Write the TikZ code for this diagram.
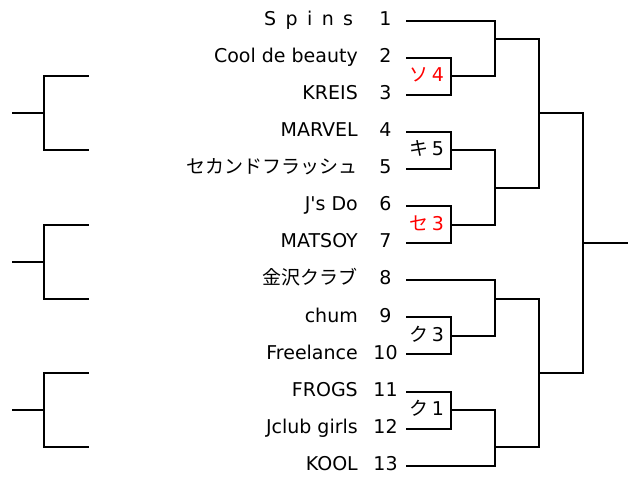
\documentclass[tikz,border=0pt]{standalone}
\usepackage{fontspec}
\setmainfont{DejaVu Sans}
\newfontfamily\jp{Noto Sans CJK JP}
\usepackage{tikz}
\usetikzlibrary{positioning, calc}

\definecolor{winred}{RGB}{255, 0, 0}

\begin{document}
\begin{tikzpicture}[
    x=1pt, y=-37.08pt,
    line/.style={draw=black, line width=2pt},
    team/.style={anchor=base east, yshift=-4.7pt, inner sep=0pt, font=\fontsize{19}{22}\selectfont},
    seed/.style={anchor=base, yshift=-4.7pt, inner sep=0pt, font=\fontsize{19}{22}\selectfont},
    score/.style={anchor=base, yshift=-5.4pt, inner sep=0pt, font=\fontsize{19}{22}\selectfont}
]
\useasboundingbox (0,0.4418) rectangle (637,13.333);

% Team names
\node[team, xshift=-4.7pt] (team1) at (358,1) {\spaceskip=9.4pt S p i n s};
\node[team] (team2) at (358,2) {Cool de beauty};
\node[team] (team3) at (358,3) {KREIS};
\node[team] (team4) at (358,4) {MARVEL};
\node[team] (team5) at (358,5) {\jp セカンドフラッシュ};
\node[team] (team6) at (358,6) {J\textquotesingle s Do};
\node[team] (team7) at (358,7) {MATSOY};
\node[team] (team8) at (358,8) {\jp 金沢クラブ};
\node[team] (team9) at (358,9) {chum};
\node[team] (team10) at (358,10) {Freelance};
\node[team] (team11) at (358,11) {FROGS};
\node[team] (team12) at (358,12) {Jclub girls};
\node[team] (team13) at (358,13) {KOOL};

% Draw numbers
\node[seed] (seed1) at (385.5,1) {1};
\node[seed] (seed2) at (385.5,2) {2};
\node[seed] (seed3) at (385.5,3) {3};
\node[seed] (seed4) at (385.5,4) {4};
\node[seed] (seed5) at (385.5,5) {5};
\node[seed] (seed6) at (385.5,6) {6};
\node[seed] (seed7) at (385.5,7) {7};
\node[seed] (seed8) at (385.5,8) {8};
\node[seed] (seed9) at (385.5,9) {9};
\node[seed] (seed10) at (385.5,10) {10};
\node[seed] (seed11) at (385.5,11) {11};
\node[seed] (seed12) at (385.5,12) {12};
\node[seed] (seed13) at (385.5,13) {13};

% Line starts
\coordinate (r1) at (406,1);
\coordinate (r2) at (406,2);
\coordinate (r3) at (406,3);
\coordinate (r4) at (406,4);
\coordinate (r5) at (406,5);
\coordinate (r6) at (406,6);
\coordinate (r7) at (406,7);
\coordinate (r8) at (406,8);
\coordinate (r9) at (406,9);
\coordinate (r10) at (406,10);
\coordinate (r11) at (406,11);
\coordinate (r12) at (406,12);
\coordinate (r13) at (406,13);

% Junctions
\coordinate (s23) at (450.7,2.5);
\coordinate (s45) at (450.7,4.5);
\coordinate (s67) at (450.7,6.5);
\coordinate (s910) at (450.7,9.5);
\coordinate (s1112) at (450.7,11.5);
\coordinate (q1) at (495,1.5);
\coordinate (q2) at (495,5.5);
\coordinate (q3) at (495,8.5);
\coordinate (q4) at (495,12.5);
\coordinate (h1) at (538.7,3.5);
\coordinate (h2) at (538.7,10.5);
\coordinate (fin) at (583,7);
\coordinate (out) at (627.7,7);

% First round
\draw[line] (r2) -| (s23) |- (r3);
\draw[line] (r4) -| (s45) |- (r5);
\draw[line] (r6) -| (s67) |- (r7);
\draw[line] (r9) -| (s910) |- (r10);
\draw[line] (r11) -| (s1112) |- (r12);

% Scores
\node[score, text=winred] (sc23) at (427,2.5) {{\jp ソ}\hspace{3pt}4};
\node[score] (sc45) at (427,4.5) {{\jp キ}\hspace{3pt}5};
\node[score, text=winred] (sc67) at (427,6.5) {{\jp セ}\hspace{3pt}3};
\node[score] (sc910) at (427,9.5) {{\jp ク}\hspace{3pt}3};
\node[score] (sc1112) at (427,11.5) {{\jp ク}\hspace{3pt}1};

% Later rounds
\draw[line] (r1) -| (q1) |- (s23);
\draw[line] (s45) -| (q2) |- (s67);
\draw[line] (r8) -| (q3) |- (s910);
\draw[line] (s1112) -| (q4) |- (r13);
\draw[line] (q1) -| (h1) |- (q2);
\draw[line] (q3) -| (h2) |- (q4);
\draw[line] (h1) -| (fin) |- (h2);
\draw[line] (fin) -- (out);

% Left brackets
\coordinate (lt1) at (88.7,2.5);
\coordinate (lv1) at (44,3.5);
\coordinate (lb1) at (88.7,4.5);
\coordinate (ls1) at (12,3.5);
\coordinate (lt2) at (88.7,6.5);
\coordinate (lv2) at (44,7.5);
\coordinate (lb2) at (88.7,8.5);
\coordinate (ls2) at (12,7.5);
\coordinate (lt3) at (88.7,10.5);
\coordinate (lv3) at (44,11.5);
\coordinate (lb3) at (88.7,12.5);
\coordinate (ls3) at (12,11.5);
\draw[line] (lt1) -| (lv1) |- (lb1);
\draw[line] (ls1) -- (lv1);
\draw[line] (lt2) -| (lv2) |- (lb2);
\draw[line] (ls2) -- (lv2);
\draw[line] (lt3) -| (lv3) |- (lb3);
\draw[line] (ls3) -- (lv3);

\end{tikzpicture}
\end{document}
